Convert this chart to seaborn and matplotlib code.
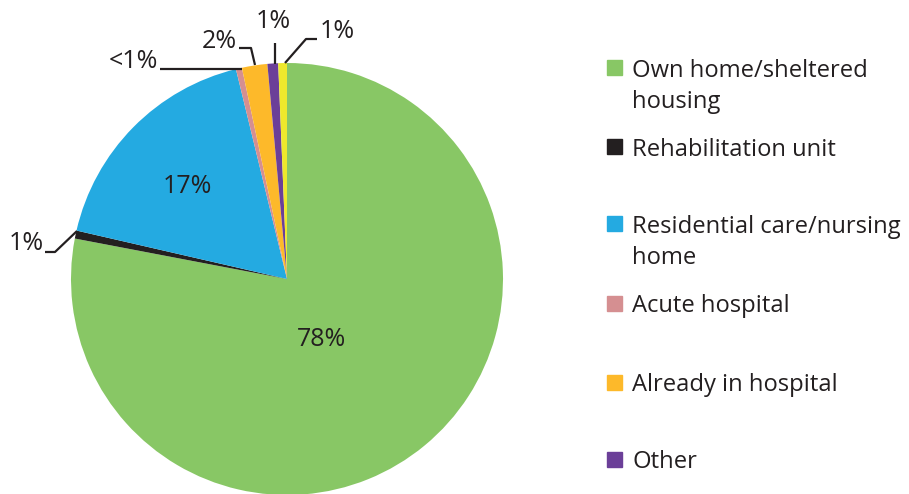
import matplotlib
matplotlib.use("Agg")
import matplotlib.pyplot as plt
import seaborn as sns
from matplotlib.patches import Rectangle

sns.set_theme(style="white")
plt.rcParams['font.family'] = ['Open Sans', 'DejaVu Sans']

categories = ["Own home/sheltered\nhousing", "Rehabilitation unit",
              "Residential care/nursing\nhome", "Acute hospital",
              "Already in hospital", "Other", "Not known"]
values = [78.0, 0.6, 17.6, 0.45, 1.9, 0.8, 0.65]
labels = ["78%", "1%", "17%", "<1%", "2%", "1%", "1%"]
colors = ["#88C765", "#231F20", "#24AAE1", "#D58F91", "#FDB92A", "#6B3F98", "#EEE82C"]
legend_count = 6

W, H = 909, 494
fig = plt.figure(figsize=(W / 100, H / 100), dpi=100)
cx, cy, R = 287, 279, 216
ax = fig.add_axes([(cx - R) / W, (H - cy - R) / H, 2 * R / W, 2 * R / H])
ax.pie(values, colors=colors, startangle=90, counterclock=False,
       wedgeprops=dict(linewidth=0), radius=1)
ax.set_xlim(-1, 1)
ax.set_ylim(-1, 1)
ax.set_aspect('auto')
ax.axis('off')


def p(x, y):
    return ((x - cx) / R, (cy - y) / R)


tc = "#231F20"
fs = 18
lfs = 17.1
# inside labels
ax.text(*p(322, 340), labels[0], ha='center', va='center', fontsize=fs, color=tc)
ax.text(*p(187, 187), labels[2], ha='center', va='center', fontsize=fs, color=tc)

# outside labels with leader lines
outs = [
    (1, (44, 243), 'right', [(45, 252), (55, 252), (77, 231)]),
    (3, (158, 62), 'right', [(160, 69), (242, 69)]),
    (4, (237, 42), 'right', [(239, 48), (251, 48), (255, 65)]),
    (5, (291, 22), 'right', [(275, 43), (275, 64)]),
    (6, (320, 32), 'left', [(317, 39), (306, 39), (285, 63)]),
]
for idx, (tx, ty), ha, pts in outs:
    ax.text(*p(tx, ty), labels[idx], ha=ha, va='center', fontsize=fs, color=tc)
    xs, ys = zip(*[p(a, b) for a, b in pts])
    ax.plot(xs, ys, color=tc, lw=1.6, solid_capstyle='butt', clip_on=False)

# legend
rows = [68, 147, 224, 303, 382, 459]
for i in range(legend_count):
    y = rows[i]
    fig.patches.append(Rectangle((607 / W, (H - y - 7.5) / H), 15 / W, 15 / H,
                                 transform=fig.transFigure, color=colors[i]))
    for k, line in enumerate(categories[i].split("\n")):
        fig.text(632 / W, (H - (y + 9) - 31 * k) / H, line, ha='left', va='baseline',
                 fontsize=lfs, color=tc)

fig.savefig("out.png", dpi=100)
